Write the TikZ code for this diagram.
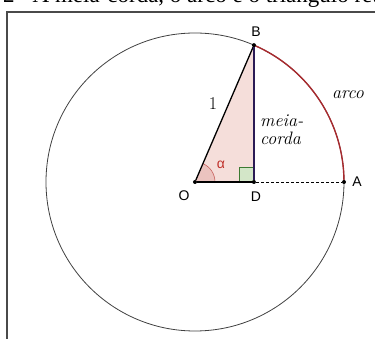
\documentclass[tikz,border=0pt]{standalone}
\usepackage{fontspec}
\usepackage{tikz}
\usetikzlibrary{backgrounds}
\newfontfamily\geofont{Liberation Sans}
\newfontfamily\capfont{Liberation Serif}

\begin{document}
\begin{tikzpicture}[x=1pt, y=1pt,
                    pt/.style = {
                        circle, fill=black, inner sep=0pt, minimum size=4pt
                    },
                    ptlabel/.style = {
                        inner sep=0pt, font=\geofont\fontsize{14}{14}\selectfont
                    },
                    tag/.style = {
                        inner sep=0pt, align=left, font=\fontsize{18}{18}\selectfont\itshape
                    }
                ]
                    % Define colors
                    \definecolor{triFill}{HTML}{F5DEDA}
                    \definecolor{angFill}{HTML}{EBC3BF}
                    \definecolor{angEdge}{HTML}{C8605C}
                    \definecolor{arcRed}{HTML}{A82A2E}
                    \definecolor{alphaRed}{HTML}{C0302A}
                    \definecolor{cordaCol}{HTML}{2B1B55}
                    \definecolor{sqFill}{HTML}{D3E6C8}
                    \definecolor{sqEdge}{HTML}{3C7A32}
                    \definecolor{frameCol}{HTML}{4A4A4A}

                    \useasboundingbox (-195,-157) rectangle (180,182);

                    % Caption, cut off at the top
                    \begin{scope}
                        \clip (-195,-157) rectangle (180,182);
                        \node[anchor=base west, inner sep=0pt, font=\capfont\fontsize{23}{23}\selectfont] (title) at (-192,179) {2\hspace{18pt}A meia-corda, o arco e o triângulo retângulo};
                    \end{scope}

                    % Frame
                    \draw[frameCol, line width=1.6pt] (-188,-157) -- (-188,170) -- (180,170);

                    % Nodes
                    \node[pt] (O) at (0,0) {};
                    \node[pt] (A) at (0:149) {};
                    \node[pt] (B) at (66.7:149) {};
                    \node[pt] (D) at (B |- O) {};

                    % Circle, triangle, angle and right angle
                    \begin{scope}[on background layer]
                        \draw[black!75, line width=0.8pt] (O.center) circle[radius=149];
                        \fill[triFill] (O.center) -- (B.center) -- (D.center) -- cycle;
                        \fill[angFill] (O.center) -- (0:20) arc[start angle=0, end angle=66.7, radius=20] -- cycle;
                        \draw[angEdge, line width=0.6pt] (0:20) arc[start angle=0, end angle=66.7, radius=20];
                        \draw[sqEdge, fill=sqFill, line width=0.8pt] (D.center) rectangle ++(-15,15);
                        \draw[arcRed, line width=1.4pt] (B.center) arc[start angle=66.7, end angle=0, radius=149];
                    \end{scope}

                    % Edges
                    \draw[line width=1.3pt] (O) -- (B);
                    \draw[cordaCol, line width=1.8pt] (B) -- (D);
                    \draw[line width=1.3pt] (O) -- (D);
                    \draw[line width=0.8pt, dash pattern=on 3pt off 2pt] (D) -- (A);

                    % Labels
                    \node[ptlabel] (labB) at (61,150) {B};
                    \node[ptlabel] (labA) at (162,0) {A};
                    \node[ptlabel] (labO) at (-11,-14) {O};
                    \node[ptlabel] (labD) at (61,-15) {D};
                    \node[ptlabel, text=alphaRed] (alpha) at (26,17) {α};
                    \node[inner sep=0pt, font=\fontsize{18}{18}\selectfont] (one) at (18,78) {1};
                    \node[tag, anchor=west] (meia) at (65,52) {meia-\\corda};
                    \node[tag] (arco) at (153,87) {arco};
                \end{tikzpicture}
\end{document}
